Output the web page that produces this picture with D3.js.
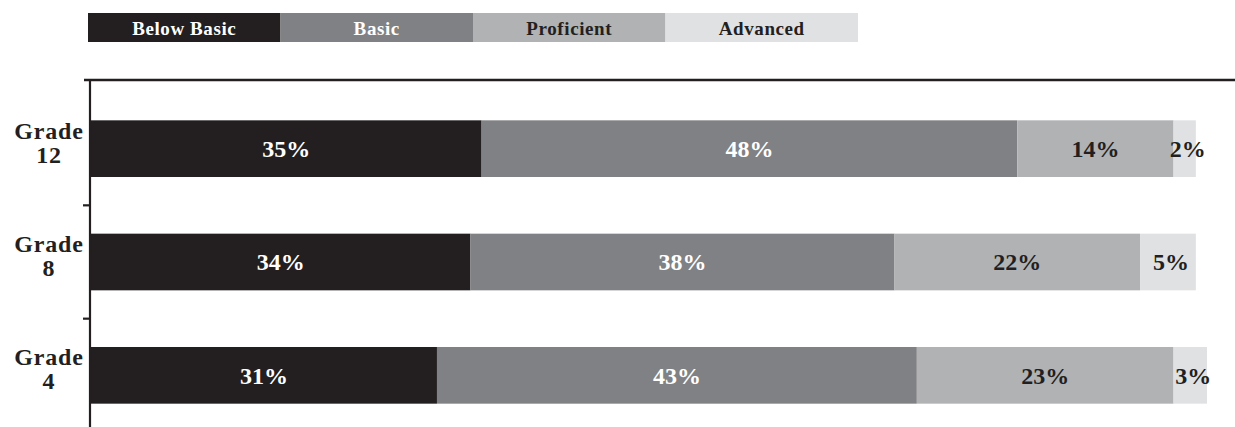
<!DOCTYPE html>
<html>
<head>
<meta charset="utf-8">
<script src="https://cdn.jsdelivr.net/npm/d3@7"></script>
<style>
  html, body { margin: 0; padding: 0; background: #fff; }
  svg { display: block; }
</style>
</head>
<body>
<svg id="chart" width="1235" height="427" font-family="'Liberation Serif', 'DejaVu Serif', serif" font-weight="bold"></svg>
<script>
// Achievement levels, left to right
const levels = ["Below Basic", "Basic", "Proficient", "Advanced"];
const levelColors = ["#231f20", "#808184", "#b1b2b4", "#e0e1e3"];
const labelColors = ["#ffffff", "#ffffff", "#231f20", "#231f20"];

// Grades, top to bottom
const grades = ["Grade 12", "Grade 8", "Grade 4"];

// Percent of students at each level
const belowBasic = [35, 34, 31];
const basic      = [48, 38, 43];
const proficient = [14, 22, 23];
const advanced   = [2, 5, 3];

const series = [belowBasic, basic, proficient, advanced];

const rows = grades.map((g, i) => {
  const r = { grade: g };
  levels.forEach((lv, j) => { r[lv] = series[j][i]; });
  return r;
});

const svg = d3.select("#chart");
const ink = "#231f20";

const x = d3.scaleLinear().domain([0, 100]).range([91, 1207]);
const y = d3.scaleBand().domain(grades).range([92, 432])
  .paddingInner(0.5).paddingOuter(0.25);

const stacked = d3.stack().keys(levels)(rows);

// Bars
const layer = svg.append("g").selectAll("g")
  .data(stacked)
  .join("g")
  .attr("fill", (d, i) => levelColors[i]);

layer.selectAll("rect")
  .data(d => d)
  .join("rect")
  .attr("x", d => x(d[0]))
  .attr("y", d => y(d.data.grade))
  .attr("width", d => x(d[1]) - x(d[0]))
  .attr("height", y.bandwidth());

// Value labels
const labels = svg.append("g");
stacked.forEach((s, i) => {
  labels.selectAll(null)
    .data(s)
    .join("text")
    .attr("x", d => (x(d[0]) + x(d[1])) / 2 + (i === 3 ? 3 : 0))
    .attr("y", d => y(d.data.grade) + y.bandwidth() / 2)
    .attr("dy", "0.35em")
    .attr("text-anchor", "middle")
    .attr("font-size", 24)
    .attr("fill", labelColors[i])
    .text(d => (d[1] - d[0]) + "%");
});

// Axis lines
const axis = svg.append("g").attr("stroke", ink);
axis.append("line")
  .attr("x1", 84).attr("x2", 1235)
  .attr("y1", 80).attr("y2", 80)
  .attr("stroke-width", 2.5);
axis.append("line")
  .attr("x1", 90).attr("x2", 90)
  .attr("y1", 79).attr("y2", 427)
  .attr("stroke-width", 2.2);

// Tick marks between grade bands
const step = y.step();
axis.selectAll(".tick")
  .data(grades.slice(0, -1))
  .join("line")
  .attr("class", "tick")
  .attr("x1", 83).attr("x2", 90)
  .attr("y1", d => y(d) + y.bandwidth() + (step - y.bandwidth()) / 2)
  .attr("y2", d => y(d) + y.bandwidth() + (step - y.bandwidth()) / 2)
  .attr("stroke-width", 2.2);

// Grade labels, two lines
const gl = svg.append("g").selectAll("text")
  .data(grades)
  .join("text")
  .attr("text-anchor", "middle")
  .attr("font-size", 24)
  .attr("letter-spacing", 0.8)
  .attr("fill", ink);
gl.append("tspan")
  .attr("x", 49)
  .attr("y", d => y(d) + y.bandwidth() / 2 - 10)
  .text(d => d.split(" ")[0]);
gl.append("tspan")
  .attr("x", 49)
  .attr("y", d => y(d) + y.bandwidth() / 2 + 14)
  .text(d => d.split(" ")[1]);

// Legend
const lx = d3.scaleBand().domain(levels).range([88, 858]);
const legend = svg.append("g").selectAll("g")
  .data(levels)
  .join("g");
legend.append("rect")
  .attr("x", d => lx(d))
  .attr("y", 13)
  .attr("width", lx.bandwidth())
  .attr("height", 29)
  .attr("fill", (d, i) => levelColors[i]);
legend.append("text")
  .attr("x", d => lx(d) + lx.bandwidth() / 2)
  .attr("y", 35)
  .attr("text-anchor", "middle")
  .attr("font-size", 19)
  .attr("letter-spacing", 0.6)
  .attr("fill", (d, i) => labelColors[i])
  .text(d => d);
</script>
</body>
</html>
